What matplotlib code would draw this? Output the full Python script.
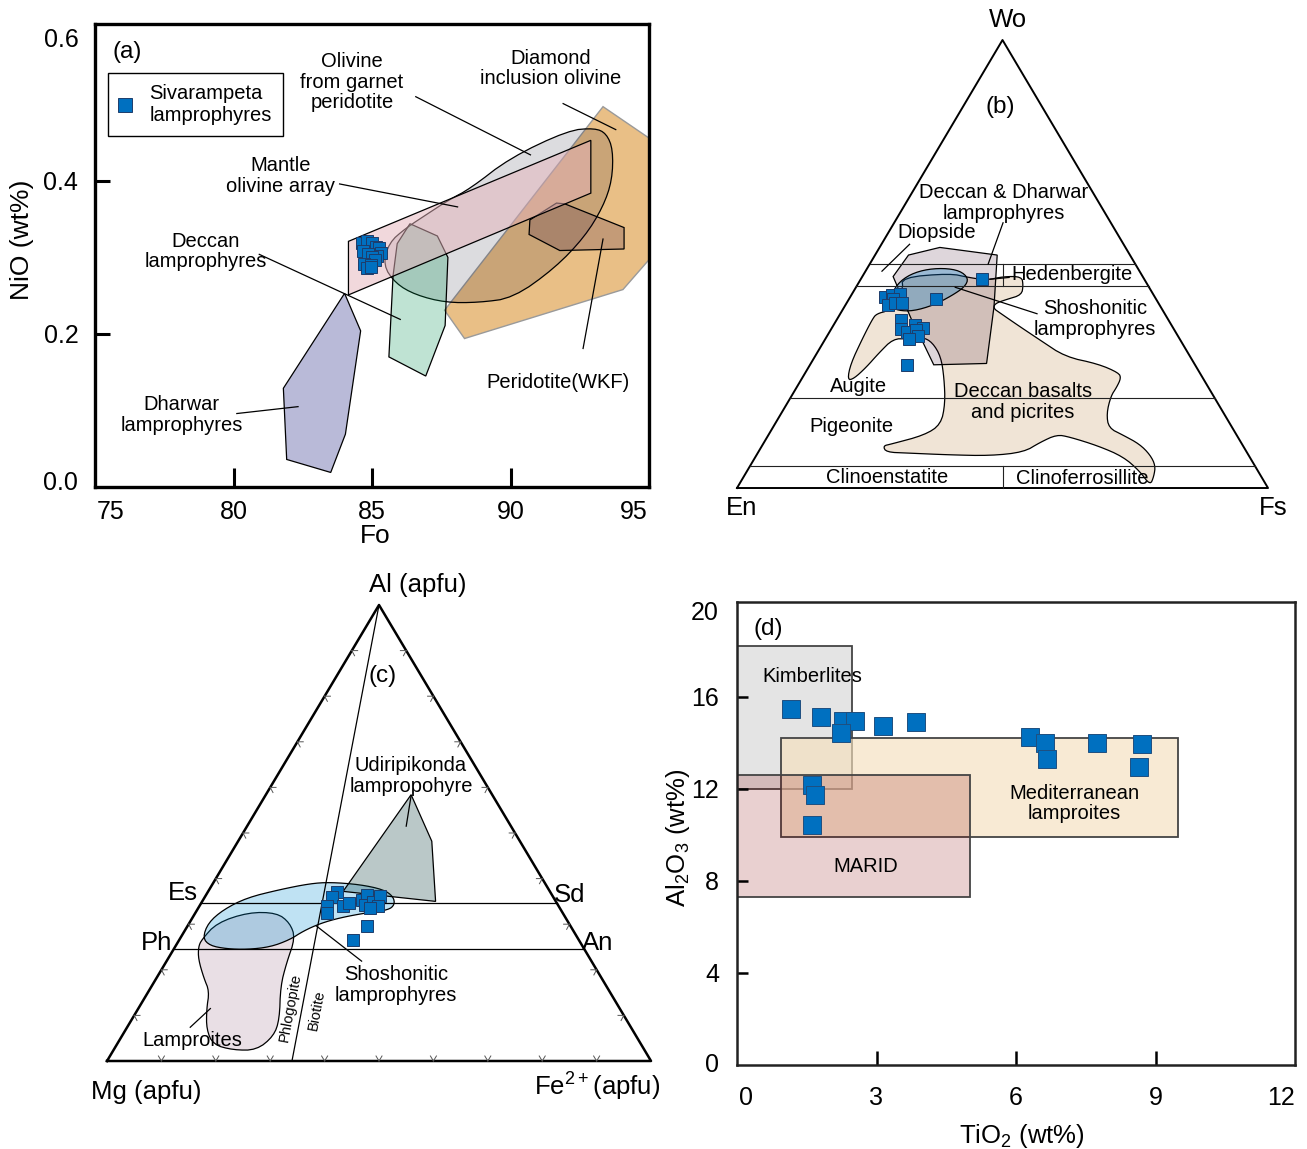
# 橄榄石 / 辉石 / 云母 成分判别图 (a)-(d)
import numpy as np
import matplotlib.pyplot as plt
from matplotlib.colors import to_rgb
from matplotlib.lines import Line2D
from matplotlib.patches import Polygon, Rectangle

plt.rcParams['font.family'] = ['Liberation Sans', 'DejaVu Sans']
plt.rcParams['mathtext.fontset'] = 'custom'
plt.rcParams['mathtext.rm'] = 'Liberation Sans'
plt.rcParams['mathtext.default'] = 'regular'

W, H = 1307, 1149
BLUE = '#0070c0'
BLUE_EDGE = '#1d3d6b'

# ---------------- (a) 橄榄石 NiO - Fo ----------------
ol_fo = [84.63, 84.83, 85.01, 85.13, 85.25, 85.31, 85.19, 84.67, 84.87, 85.01, 85.10, 84.71, 84.95, 84.83, 84.98]
ol_nio = [0.319, 0.321, 0.319, 0.314, 0.312, 0.306, 0.302, 0.308, 0.305, 0.300, 0.296, 0.292, 0.290, 0.286, 0.288]

diamond_fo = [93.34, 95.0, 95.0, 94.06, 88.34, 87.62]
diamond_nio = [0.497, 0.456, 0.297, 0.258, 0.194, 0.231]
garnet_fo = [85.40, 85.61, 86.21, 87.05, 87.77, 88.55, 89.98, 92.08, 93.04, 93.46,
             93.70, 93.67, 93.34, 92.68, 91.60, 90.10, 88.85, 87.65, 86.57, 85.85]
garnet_nio = [0.290, 0.319, 0.338, 0.358, 0.375, 0.390, 0.430, 0.466, 0.469, 0.462,
              0.441, 0.401, 0.366, 0.327, 0.286, 0.247, 0.241, 0.241, 0.251, 0.266]
array_fo = [84.15, 84.15, 92.9, 92.9]
array_nio = [0.321, 0.251, 0.384, 0.453]
deccan_fo = [86.37, 87.36, 87.74, 87.64, 86.94, 85.61, 85.76, 85.91]
deccan_nio = [0.344, 0.328, 0.300, 0.211, 0.145, 0.170, 0.276, 0.318]
dharwar_fo = [84.01, 84.59, 84.04, 83.51, 81.92, 81.80]
dharwar_nio = [0.253, 0.204, 0.069, 0.019, 0.036, 0.129]
wkf_fo = [90.70, 91.66, 91.96, 94.10, 94.10, 91.78, 90.67]
wkf_nio = [0.349, 0.371, 0.370, 0.339, 0.311, 0.309, 0.330]

a_labels = ['Olivine\nfrom garnet\nperidotite', 'Diamond\ninclusion olivine', 'Mantle\nolivine array',
            'Deccan\nlamprophyres', 'Dharwar\nlamprophyres', 'Peridotite(WKF)']
a_label_fo = [84.28, 91.45, 81.69, 78.99, 78.13, 91.73]
a_label_nio = [0.529, 0.547, 0.4065, 0.308, 0.094, 0.137]
a_leaders = [((86.58, 0.510), (90.72, 0.434)), ((91.9, 0.501), (93.8, 0.467)),
             ((83.83, 0.396), (88.09, 0.366)), ((80.93, 0.304), (86.02, 0.219)),
             ((80.12, 0.096), (82.33, 0.105)), ((92.62, 0.181), (93.34, 0.324))]

# ---------------- (b) 辉石 Wo-En-Fs ----------------
cpx_wo = [46.65, 42.2, 42.6, 43.1, 43.3, 42.1, 40.8, 41.2, 41.2, 37.5, 35.6, 36.4, 35.8, 34.9, 35.3, 34.0, 33.2, 27.5]
cpx_fs = [22.75, 16.3, 6.6, 7.55, 9.05, 8.35, 8.1, 9.15, 10.5, 12.15, 13.1, 15.3, 17.1, 14.55, 16.05, 17.1, 15.85, 18.35]

basalt_wo = [24.1, 27.7, 33.3, 37.7, 38.9, 39.6, 44.2, 47.0, 47.9, 47.0, 46.4, 47.2, 47.2, 45.3, 43.1,
             42.1, 41.2, 40.1, 39.1, 36.0, 33.0, 29.3, 27.7, 25.7, 24.5, 22.5, 20.5, 16.6, 13.4, 11.8,
             9.8, 7.4, 5.0, 2.6, 0.6, 3.8, 7.0, 9.4, 11.4, 11.9, 10.2, 8.0, 7.2, 7.4, 7.8,
             8.0, 9.4, 9.8, 11.8, 14.2, 18.9, 24.5, 29.3, 32.5, 33.7, 33.3, 33.3, 30.1, 26.9, 24.4]
basalt_fs = [8.75, 7.55, 6.95, 6.65, 6.85, 8.8, 9.2, 7.5, 16.15, 20.1, 23.8, 26.55, 30.0, 31.25, 32.05,
             29.75, 28.0, 28.25, 29.95, 35.3, 40.6, 47.15, 54.15, 59.05, 60.05, 60.25, 60.15, 61.3, 63.3, 66.8,
             70.9, 74.1, 76.3, 77.2, 77.5, 73.9, 69.2, 63.3, 56.9, 54.25, 52.0, 50.0, 44.1, 36.2, 28.2,
             24.1, 22.8, 24.1, 29.4, 31.3, 29.75, 26.75, 23.75, 20.55, 18.05, 15.45, 12.75, 11.65, 10.85, 9.8]
lamp_b_wo = [52.0, 53.7, 52.0, 40.5, 27.8, 27.5, 32.3, 37.5, 47.2]
lamp_b_fs = [6.3, 11.35, 23.0, 28.15, 33.1, 23.3, 18.95, 14.15, 5.8]
shosh_b_wo = [41.6, 44.9, 47.3, 48.7, 49.1, 48.5, 46.8, 44.9, 42.9, 40.8, 39.5, 39.6, 40.5]
shosh_b_fs = [7.9, 7.3, 8.3, 10.75, 14.3, 17.75, 20.2, 20.45, 18.95, 16.6, 13.45, 10.6, 8.65]
wo_lines = [5, 20, 45, 50]
b_leaders = [((59.2, 20.5), (50.0, 22.3)), ((54.4, 5.3), (48.4, 3.1)),
             ((46.6, 24.4), (47.0, 27.75)), ((44.8, 18.7), (38.9, 37.05))]

# ---------------- (c) 云母 Al-Mg-Fe2+ ----------------
bt_al = [37.1, 36.0, 34.1, 32.5, 34.1, 34.7, 35.4, 36.3, 34.3, 34.8, 36.1, 33.95, 33.6, 29.6, 26.6]
bt_fe = [23.75, 23.3, 23.35, 24.15, 26.35, 27.05, 29.1, 29.55, 30.25, 31.55, 32.15, 32.9, 31.55, 33.05, 32.0]

udiri_al = [58.4, 48.2, 35.0, 37.2]
udiri_fe = [26.7, 35.6, 42.9, 24.8]
shosh_c_al = [27.0, 30.3, 33.2, 35.8, 37.6, 38.9, 39.2, 38.7, 37.6, 36.1, 34.3,
              33.1, 32.5, 31.4, 30.15, 28.5, 26.6, 25.0, 24.45, 24.6, 25.3]
shosh_c_fe = [4.1, 3.45, 4.8, 7.8, 13.0, 17.85, 21.4, 27.15, 32.0, 34.55, 35.75,
              35.15, 31.45, 27.1, 24.1, 21.85, 20.3, 17.5, 13.5, 9.7, 6.25]
lamproite_al = [26.6, 30.3, 32.6, 32.5, 30.3, 27.0, 21.5, 16.4, 9.1, 5.45,
                2.4, 2.4, 3.6, 6.9, 11.3, 15.3, 18.2, 22.3, 25.0]
lamproite_fe = [4.1, 5.05, 9.7, 14.95, 18.45, 21.1, 22.25, 23.7, 27.15, 27.9,
                26.3, 22.0, 17.7, 14.85, 12.65, 11.15, 8.7, 5.65, 4.3]
es_al, ph_al = 34.7, 24.5
phl_bt_fe = 34.0
c_leaders = [((58.2, 26.8), (51.5, 29.25)), ((29.6, 23.7), (21.9, 35.85)), ((11.5, 13.25), (7.4, 11.6))]

# ---------------- (d) Al2O3 - TiO2 ----------------
tio2 = [1.16, 1.81, 2.29, 2.54, 2.24, 3.15, 3.86, 6.30, 6.62, 6.67, 7.75, 8.70, 8.64, 1.62, 1.68, 1.62]
al2o3 = [15.47, 15.13, 14.96, 14.97, 14.42, 14.75, 14.90, 14.27, 14.01, 13.29, 14.01, 13.96, 12.97, 12.17, 11.74, 10.42]

box_names = ['Kimberlites', 'Mediterranean\nlamproites', 'MARID']
box_x0 = [0.0, 0.946, 0.0]
box_x1 = [2.48, 9.49, 5.0]
box_y0 = [12.0, 9.9, 7.32]
box_y1 = [18.2, 14.23, 12.6]


fig = plt.figure(figsize=(W / 100, H / 100), dpi=100)


def box(x0, y0, x1, y1):
    """[像素框(左上为原点) -> 图坐标]"""
    return [x0 / W, 1 - y1 / H, (x1 - x0) / W, (y1 - y0) / H]


def ptext(x, y, s, size=14.5, **kw):
    kw.setdefault('ha', 'center')
    kw.setdefault('va', 'center')
    fig.text(x / W, 1 - y / H, s, fontsize=size, **kw)


def tint(color):
    """[用深色半透明填充近似正片叠底]"""
    c = np.array(to_rgb(color))
    a = 1 - c.min()
    k = (c - (1 - a)) / a
    return (*k, a)


def chaikin(pts, n=2):
    """[闭合多边形圆滑]"""
    p = np.asarray(pts, float)
    for _ in range(n):
        q = np.roll(p, -1, axis=0)
        r = np.empty((2 * len(p), 2))
        r[0::2] = 0.75 * p + 0.25 * q
        r[1::2] = 0.25 * p + 0.75 * q
        p = r
    return p


def field(ax, pts, color, edge='black', lw=0.9, smooth=0, z=1, alpha=None):
    if smooth:
        pts = chaikin(pts, smooth)
    face = tint(color) if alpha is None else (*to_rgb(color), alpha)
    ax.add_patch(Polygon(pts, closed=True, facecolor=face, edgecolor=edge, lw=lw, zorder=z))


def tern(top, right):
    """[三元成分(%) -> 平面坐标, 底边长1, 高1]"""
    top = np.asarray(top, float) / 100
    right = np.asarray(right, float) / 100
    return np.column_stack([right + top / 2, top])


def hide_end_ticks(axis):
    ticks = axis.get_major_ticks()
    ticks[0].tick1line.set_visible(False)
    ticks[-1].tick1line.set_visible(False)


# ===== (a) =====
ax = fig.add_axes(box(95, 24, 649, 487))
field(ax, np.column_stack([diamond_fo, diamond_nio]), '#e9bf86', edge='#9a9a9a', lw=1.0)
field(ax, np.column_stack([garnet_fo, garnet_nio]), '#dcdce0', smooth=2)
field(ax, np.column_stack([deccan_fo, deccan_nio]), '#bfe4d3')
field(ax, np.column_stack([dharwar_fo, dharwar_nio]), '#b9bad8')
field(ax, np.column_stack([wkf_fo, wkf_nio]), '#d6d0da')
field(ax, np.column_stack([array_fo, array_nio]), '#e5b3bb', alpha=0.5, z=1.5)
for (x0, y0), (x1, y1) in a_leaders:
    ax.plot([x0, x1], [y0, y1], color='black', lw=0.9, zorder=3)
ax.plot(ol_fo, ol_nio, 's', ms=8.8, mfc=BLUE, mec=BLUE_EDGE, mew=0.7, ls='none', zorder=5)
for s, x, y in zip(a_labels, a_label_fo, a_label_nio):
    ax.text(x, y, s, fontsize=14.5, ha='center', va='center', linespacing=1.1)

h = Line2D([], [], marker='s', ls='none', ms=9.5, mfc=BLUE, mec=BLUE_EDGE, mew=0.7)
leg = ax.legend([h], ['Sivarampeta\nlamprophyres'], loc='upper left', bbox_to_anchor=(0.0235, 0.894),
                fancybox=False, edgecolor='black', framealpha=1, fontsize=14.5,
                handlelength=0.6, handletextpad=0.9, borderpad=0.55, borderaxespad=0)
leg.get_frame().set_linewidth(1.0)

ax.set_xlim(75, 95)
ax.set_ylim(0, 0.605)
ax.set_xticks([75.55, 80, 85, 90, 94.45], ['75', '80', '85', '90', '95'])
ax.set_yticks([0.008, 0.2, 0.4, 0.588], ['0.0', '0.2', '0.4', '0.6'])
ax.tick_params(axis='x', direction='in', length=14, width=2.2, labelsize=18, pad=9)
ax.tick_params(axis='y', direction='in', length=11, width=2.2, labelsize=18, pad=12)
hide_end_ticks(ax.xaxis)
hide_end_ticks(ax.yaxis)
for sp in ax.spines.values():
    sp.set_linewidth(2.4)
ptext(127, 52, '(a)', 17.5)
ptext(22, 240, 'NiO (wt%)', 19, rotation=90)
ptext(375, 536, 'Fo', 19)

# ===== (b) =====
bx = fig.add_axes(box(660, 0, 1307, 560))
bx.axis('off')
field(bx, tern(basalt_wo, basalt_fs), '#f0e4d6', smooth=2)
field(bx, tern(lamp_b_wo, lamp_b_fs), '#ded6dc')
field(bx, tern(shosh_b_wo, shosh_b_fs), '#b2d7ee', smooth=2)
bx.plot([0, 1, 0.5, 0], [0, 0, 1, 0], color='black', lw=1.4, zorder=3)
for w in wo_lines:
    bx.plot([w / 200, 1 - w / 200], [w / 100, w / 100], color='#222', lw=0.8, zorder=3)
for w0, w1 in [(0, 5), (45, 50)]:
    bx.plot([0.5, 0.5], [w0 / 100, w1 / 100], color='#222', lw=0.8, zorder=3)
for p0, p1 in b_leaders:
    seg = tern([p0[0], p1[0]], [p0[1], p1[1]])
    bx.plot(seg[:, 0], seg[:, 1], color='black', lw=0.9, zorder=3)
pts = tern(cpx_wo, cpx_fs)
bx.plot(pts[:, 0], pts[:, 1], 's', ms=8.2, mfc=BLUE, mec=BLUE_EDGE, mew=0.7, ls='none', zorder=5)
bx.set_xlim(-0.1450, 1.0734)
bx.set_ylim(-0.1607, 1.0893)

ptext(1008, 20, 'Wo', 18.5)
ptext(742, 508, 'En', 18.5)
ptext(1273, 508, 'Fs', 18.5)
ptext(1000, 107, '(b)', 17.5)
ptext(1004, 203, 'Deccan & Dharwar\nlamprophyres', 14.5, linespacing=1.1)
ptext(937, 232, 'Diopside', 14.5)
ptext(1072, 275, 'Hedenbergite', 14.5)
ptext(1095, 319, 'Shoshonitic\nlamprophyres', 14.5, linespacing=1.1)
ptext(859, 386, 'Augite', 14.5)
ptext(851, 427, 'Pigeonite', 14.5)
ptext(1023, 402, 'Deccan basalts\nand picrites', 14.5, linespacing=1.1)
ptext(887, 478, 'Clinoenstatite', 14.5)
ptext(1082, 479, 'Clinoferrosillite', 14.5)

# ===== (c) =====
cx = fig.add_axes(box(0, 560, 660, 1149))
cx.axis('off')
field(cx, tern(lamproite_al, lamproite_fe), '#e9dfe5', smooth=2)
field(cx, tern(shosh_c_al, shosh_c_fe), '#bfe3f4', smooth=2)
field(cx, tern(udiri_al, udiri_fe), '#bac9c9')
cx.plot([0, 1, 0.5, 0], [0, 0, 1, 0], color='black', lw=1.8, zorder=3)
for a in (es_al, ph_al):
    cx.plot([a / 200, 1 - a / 200], [a / 100, a / 100], color='black', lw=0.9, zorder=3)
cx.plot([0.5, phl_bt_fe / 100], [1, 0], color='black', lw=0.9, zorder=3)

# 三条边上每 10% 的小刻度
corners = np.array([[0, 0], [1, 0], [0.5, 1]])
cen = corners.mean(axis=0)
scale = np.array([544, 456])
for i in range(3):
    p, q = corners[i], corners[(i + 1) % 3]
    d = (q - p) * scale
    d = d / np.hypot(*d)
    n = np.array([-d[1], d[0]])
    for f in np.arange(1, 10) / 10:
        pt = p + f * (q - p)
        if np.dot(n, (cen - pt) * scale) < 0:
            n = -n
        for side in (-1, 1):
            tip = pt + (n * 5 + side * d * 3) / scale
            cx.plot([pt[0], tip[0]], [pt[1], tip[1]], color='#555', lw=0.7, zorder=3)

for p0, p1 in c_leaders:
    seg = tern([p0[0], p1[0]], [p0[1], p1[1]])
    cx.plot(seg[:, 0], seg[:, 1], color='black', lw=0.9, zorder=3)
pts = tern(bt_al, bt_fe)
cx.plot(pts[:, 0], pts[:, 1], 's', ms=8.2, mfc=BLUE, mec=BLUE_EDGE, mew=0.7, ls='none', zorder=5)
cx.set_xlim(-0.1967, 1.0165)
cx.set_ylim(-0.193, 1.0987)

ptext(418, 585, 'Al (apfu)', 18.5)
ptext(146, 1092, 'Mg (apfu)', 18.5)
ptext(597, 1087, r'Fe$^{2+}$(apfu)', 18.5)
ptext(383, 676, '(c)', 17.5)
ptext(183, 893, 'Es', 18.5)
ptext(570, 895, 'Sd', 18.5)
ptext(157, 943, 'Ph', 18.5)
ptext(598, 943, 'An', 18.5)
ptext(411, 776, 'Udiripikonda\nlampropohyre', 14.5, linespacing=1.1)
ptext(396, 985, 'Shoshonitic\nlamprophyres', 14.5, linespacing=1.1)
ptext(192, 1040, 'Lamproites', 14.5)
ptext(290, 1008, 'Phlogopite', 10.5, rotation=79.4)
ptext(317, 1010, 'Biotite', 10.5, rotation=79.4)

# ===== (d) =====
dx = fig.add_axes(box(737, 602, 1295, 1065))
box_face = ['#e4e4e4', (0.96, 0.88, 0.74, 0.65), tint('#e9d0d0')]
for i in range(3):
    dx.add_patch(Rectangle((box_x0[i], box_y0[i]), box_x1[i] - box_x0[i], box_y1[i] - box_y0[i],
                           facecolor=box_face[i], edgecolor='#444', lw=1.3, zorder=1 + i * 0.1))
dx.plot(tio2, al2o3, 's', ms=13, mfc=BLUE, mec='#1f4f80', mew=0.7, ls='none', zorder=5)
dx.text(0.67, 18.96, '(d)', fontsize=17.5, ha='center', va='center')
dx.text(1.61, 16.91, box_names[0], fontsize=14.5, ha='center', va='center', zorder=6)
dx.text(7.25, 11.38, box_names[1], fontsize=14.5, ha='center', va='center', linespacing=1.1, zorder=6)
dx.text(2.77, 8.62, box_names[2], fontsize=14.5, ha='center', va='center', zorder=6)
dx.set_xlim(0, 12)
dx.set_ylim(0, 20.13)
dx.set_xticks([0.2, 3, 6, 9, 11.7], ['0', '3', '6', '9', '12'])
dx.set_yticks([0.1, 4, 8, 12, 16, 19.75], ['0', '4', '8', '12', '16', '20'])
dx.tick_params(axis='x', direction='in', length=10, width=1.8, labelsize=18, pad=15)
dx.tick_params(axis='y', direction='in', length=8, width=1.8, labelsize=18, pad=13)
hide_end_ticks(dx.xaxis)
hide_end_ticks(dx.yaxis)
for sp in dx.spines.values():
    sp.set_linewidth(1.8)
    sp.set_color('#222')
ptext(678, 838, r'Al$_2$O$_3$ (wt%)', 18.5, rotation=90)
ptext(1022, 1136, r'TiO$_2$ (wt%)', 18.5)

fig.savefig('out.png', dpi=100)
